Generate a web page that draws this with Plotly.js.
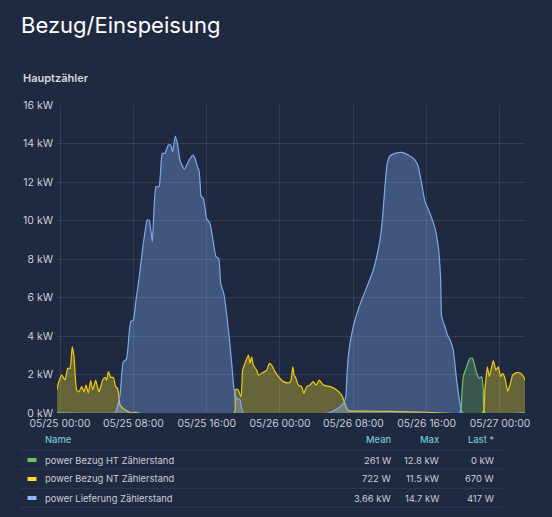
<!DOCTYPE html>
<html>
<head>
<meta charset="utf-8">
<script src="https://cdn.plot.ly/plotly-3.0.1.min.js"></script>
<style>
  html, body { margin: 0; padding: 0; background: #1f2940; }
  #chart { width: 552px; height: 517px; }
</style>
</head>
<body>
<div id="chart"></div>
<script>
// Hours since 2024-05-25 00:00 and power values in kW
const lieferungHours = [-0.33, 6.0, 6.1, 6.55, 6.9, 7.25, 7.71, 8.0, 8.29, 8.65, 9.09, 9.53, 9.75, 10.07, 10.47, 10.8, 11.16, 11.45, 11.82, 12.08, 12.29, 12.58, 12.84, 13.09, 13.56, 14.0, 14.47, 14.73, 14.98, 15.16, 15.31, 15.38, 15.64, 16.0, 16.36, 17.02, 17.31, 17.53, 17.9, 18.47, 18.73, 19.0, 19.27, 19.64, 20.0, 29.3, 30.5, 31.0, 31.2, 31.3, 31.45, 31.64, 31.8, 32.18, 32.91, 33.64, 34.18, 34.55, 34.91, 35.2, 35.45, 35.7, 36.0, 36.55, 37.27, 38.0, 38.73, 39.09, 39.45, 39.82, 40.36, 40.91, 41.27, 41.53, 41.64, 42.0, 42.27, 42.55, 42.9, 43.27, 43.64, 43.93, 50.73];
const lieferungKW = [0, 0, 0.05, 0.93, 2.66, 2.8, 4.74, 4.83, 5.87, 7.08, 8.81, 10.03, 9.99, 8.9, 11.76, 11.76, 13.49, 13.49, 13.92, 13.92, 13.57, 14.39, 13.92, 13.14, 12.66, 13.05, 13.4, 13.23, 12.8, 12.62, 11.76, 11.27, 11.15, 10.1, 9.86, 8.12, 8.03, 6.74, 6.13, 3.88, 2.58, 1.2, 0.76, 0.68, 0, 0, 0.3, 0.55, 0.93, 1.89, 2.92, 3.62, 4.05, 4.83, 5.87, 6.74, 7.43, 8.12, 8.99, 10.2, 11.76, 12.97, 13.35, 13.49, 13.54, 13.4, 13.14, 12.8, 11.93, 10.98, 10.37, 9.6, 8.64, 6.91, 5.0, 4.48, 4.05, 3.8, 3.27, 1.71, 0.5, 0, 0];

const bezugNTHours = [-0.33, -0.18, 0.18, 0.55, 0.84, 1.09, 1.34, 1.53, 1.82, 2.07, 2.37, 2.62, 2.84, 3.09, 3.35, 3.57, 3.89, 4.25, 4.66, 4.91, 5.09, 5.27, 5.53, 5.82, 6.07, 6.29, 6.55, 6.9, 7.45, 7.82, 8.2, 8.5, 19.0, 19.1, 19.38, 19.75, 19.93, 20.18, 20.55, 20.73, 20.91, 21.09, 21.45, 21.64, 22.0, 22.55, 22.84, 23.09, 23.45, 24.0, 24.36, 24.9, 25.16, 25.4, 25.55, 25.7, 26.0, 26.36, 26.6, 26.91, 27.27, 27.63, 27.93, 28.29, 28.73, 29.45, 30.18, 30.73, 31.2, 31.45, 33.0, 36.0, 40.0, 41.8, 46.1, 46.36, 46.62, 46.84, 47.27, 47.56, 47.82, 48.07, 48.29, 48.55, 48.84, 49.09, 49.38, 49.82, 50.25, 50.55, 50.73];
const bezugNTKW = [1.2, 1.54, 1.97, 1.71, 2.32, 2.32, 3.44, 2.92, 1.2, 1.1, 1.37, 1.1, 1.45, 1.05, 1.68, 1.2, 1.71, 1.1, 1.71, 1.85, 1.71, 2.15, 1.85, 1.85, 1.37, 1.28, 0.42, 0.24, 0.07, 0, 0.05, 0, 0, 1.2, 1.23, 0.85, 2.23, 2.58, 3.01, 2.58, 2.92, 2.49, 2.23, 1.97, 2.06, 2.23, 2.58, 2.49, 2.15, 1.8, 1.63, 1.57, 1.63, 2.4, 1.95, 1.85, 1.45, 1.37, 1.02, 1.37, 1.45, 1.63, 1.45, 1.71, 1.45, 1.37, 1.2, 0.93, 0.33, 0.12, 0.1, 0.08, 0.04, 0, 0, 1.2, 2.4, 1.89, 2.72, 2.23, 2.4, 1.89, 2.06, 1.8, 1.14, 1.45, 1.97, 2.1, 2.06, 1.89, 1.71];

const bezugHTHours = [-0.33, 43.6, 43.82, 44.0, 44.36, 44.73, 45.0, 45.27, 45.53, 45.75, 46.0, 46.18, 46.36, 50.73];
const bezugHTKW = [0, 0, 0.85, 1.89, 2.4, 2.84, 2.84, 2.4, 1.97, 1.8, 1.89, 1.28, 0, 0];

const seriesNames = ['power Bezug HT Zählerstand', 'power Bezug NT Zählerstand', 'power Lieferung Zählerstand'];
const statMean = ['261 W', '722 W', '3.66 kW'];
const statMax = ['12.8 kW', '11.5 kW', '14.7 kW'];
const statLast = ['0 kW', '670 W', '417 W'];
const yTickVals = [0, 2, 4, 6, 8, 10, 12, 14, 16];

const base = new Date(Date.UTC(2024, 4, 25, 0, 0, 0)).getTime();
function toTime(h) {
  const d = new Date(base + h * 3600000);
  const p = n => String(n).padStart(2, '0');
  return d.getUTCFullYear() + '-' + p(d.getUTCMonth() + 1) + '-' + p(d.getUTCDate()) + ' ' + p(d.getUTCHours()) + ':' + p(d.getUTCMinutes()) + ':' + p(d.getUTCSeconds());
}

const colors = ['#73BF69', '#F2CC0C', '#7EA9EE'];
const swatchColors = ['#73BF69', '#FADE2A', '#8AB8FF'];
const fills = ['rgba(115,191,105,0.32)', 'rgba(250,222,42,0.33)', 'rgba(138,184,255,0.32)'];
const hoursArr = [bezugHTHours, bezugNTHours, lieferungHours];
const valsArr = [bezugHTKW, bezugNTKW, lieferungKW];

const traces = hoursArr.map((hs, i) => ({
  type: 'scatter',
  mode: 'lines',
  name: seriesNames[i],
  x: hs.map(toTime),
  y: valsArr[i],
  line: { color: colors[i], width: 1.2, shape: 'spline', smoothing: 0.5 },
  fill: 'tozeroy',
  fillcolor: fills[i],
  hoverinfo: 'skip'
}));

// Legend table geometry helpers (pixel -> paper)
const L = 57, R = 27, T = 105, B = 104, W = 552, H = 517;
const pw = W - L - R, ph = H - T - B;
const px = x => (x - L) / pw;
const py = y => (H - B - y) / ph;

const textColor = '#ccccdc';
const headColor = '#73c5d3';
const fs = 9.4;
const annotations = [];
const shapes = [];

annotations.push({ text: 'Hauptzähler', x: px(21), y: py(78), xref: 'paper', yref: 'paper', xanchor: 'left', yanchor: 'middle', showarrow: false, font: { family: 'Inter', size: 11, color: '#d8d9da', weight: 600 } });

const headY = 439;
annotations.push({ text: 'Name', x: px(43), y: py(headY), xref: 'paper', yref: 'paper', xanchor: 'left', yanchor: 'middle', showarrow: false, font: { family: 'Inter', size: fs, color: headColor, weight: 500 } });
[['Mean', 393], ['Max', 441], ['Last *', 496]].forEach(([t, x]) => {
  annotations.push({ text: t, x: px(x), y: py(headY), xref: 'paper', yref: 'paper', xanchor: 'right', yanchor: 'middle', showarrow: false, font: { family: 'Inter', size: fs, color: headColor, weight: 500 } });
});
const rowY = [460, 479, 498];
const sepY = [450, 469.3, 488.3, 507.3];
sepY.forEach(y => shapes.push({ type: 'line', xref: 'paper', yref: 'paper', x0: px(20), x1: px(502), y0: py(y), y1: py(y), line: { color: 'rgba(204,204,220,0.10)', width: 1 } }));
seriesNames.forEach((n, i) => {
  const y = rowY[i];
  shapes.push({ type: 'line', xref: 'paper', yref: 'paper', x0: px(27.5), x1: px(36.5), y0: py(y), y1: py(y), line: { color: swatchColors[i], width: 4 } });
  annotations.push({ text: n, x: px(43), y: py(y), xref: 'paper', yref: 'paper', xanchor: 'left', yanchor: 'middle', showarrow: false, font: { family: 'Inter', size: fs, color: textColor } });
  annotations.push({ text: statMean[i], x: px(393), y: py(y), xref: 'paper', yref: 'paper', xanchor: 'right', yanchor: 'middle', showarrow: false, font: { family: 'Inter', size: fs, color: textColor } });
  annotations.push({ text: statMax[i], x: px(441), y: py(y), xref: 'paper', yref: 'paper', xanchor: 'right', yanchor: 'middle', showarrow: false, font: { family: 'Inter', size: fs, color: textColor } });
  annotations.push({ text: statLast[i], x: px(496), y: py(y), xref: 'paper', yref: 'paper', xanchor: 'right', yanchor: 'middle', showarrow: false, font: { family: 'Inter', size: fs, color: textColor } });
});

const layout = {
  width: W, height: H,
  paper_bgcolor: '#1f2940',
  plot_bgcolor: '#1f2940',
  margin: { l: L, r: R, t: T, b: B, pad: 0 },
  showlegend: false,
  title: { text: 'Bezug/Einspeisung', x: 21 / W, xanchor: 'left', xref: 'container', y: 1 - 25 / H, yref: 'container', yanchor: 'middle', font: { family: 'Inter', size: 22, color: '#ffffff' } },
  xaxis: {
    type: 'date',
    range: [toTime(-0.327), toTime(50.73)],
    tick0: toTime(0), dtick: 8 * 3600000,
    tickformat: '%m/%d %H:%M',
    showgrid: true, gridcolor: 'rgba(204,204,220,0.12)', gridwidth: 1,
    zeroline: false, showline: false, ticks: '',
    tickfont: { family: 'Inter', size: 10.3, color: textColor },
    ticklabelstandoff: 3
  },
  yaxis: {
    range: [0, 16],
    tickvals: yTickVals,
    ticktext: yTickVals.map(v => v + ' kW'),
    showgrid: true, gridcolor: 'rgba(204,204,220,0.12)', gridwidth: 1,
    zeroline: false, showline: false, ticks: '',
    tickfont: { family: 'Inter', size: 10.5, color: textColor },
    ticklabelstandoff: 3
  },
  annotations: annotations,
  shapes: shapes
};

Plotly.newPlot('chart', traces, layout, { displayModeBar: false, staticPlot: true });
</script>
</body>
</html>
